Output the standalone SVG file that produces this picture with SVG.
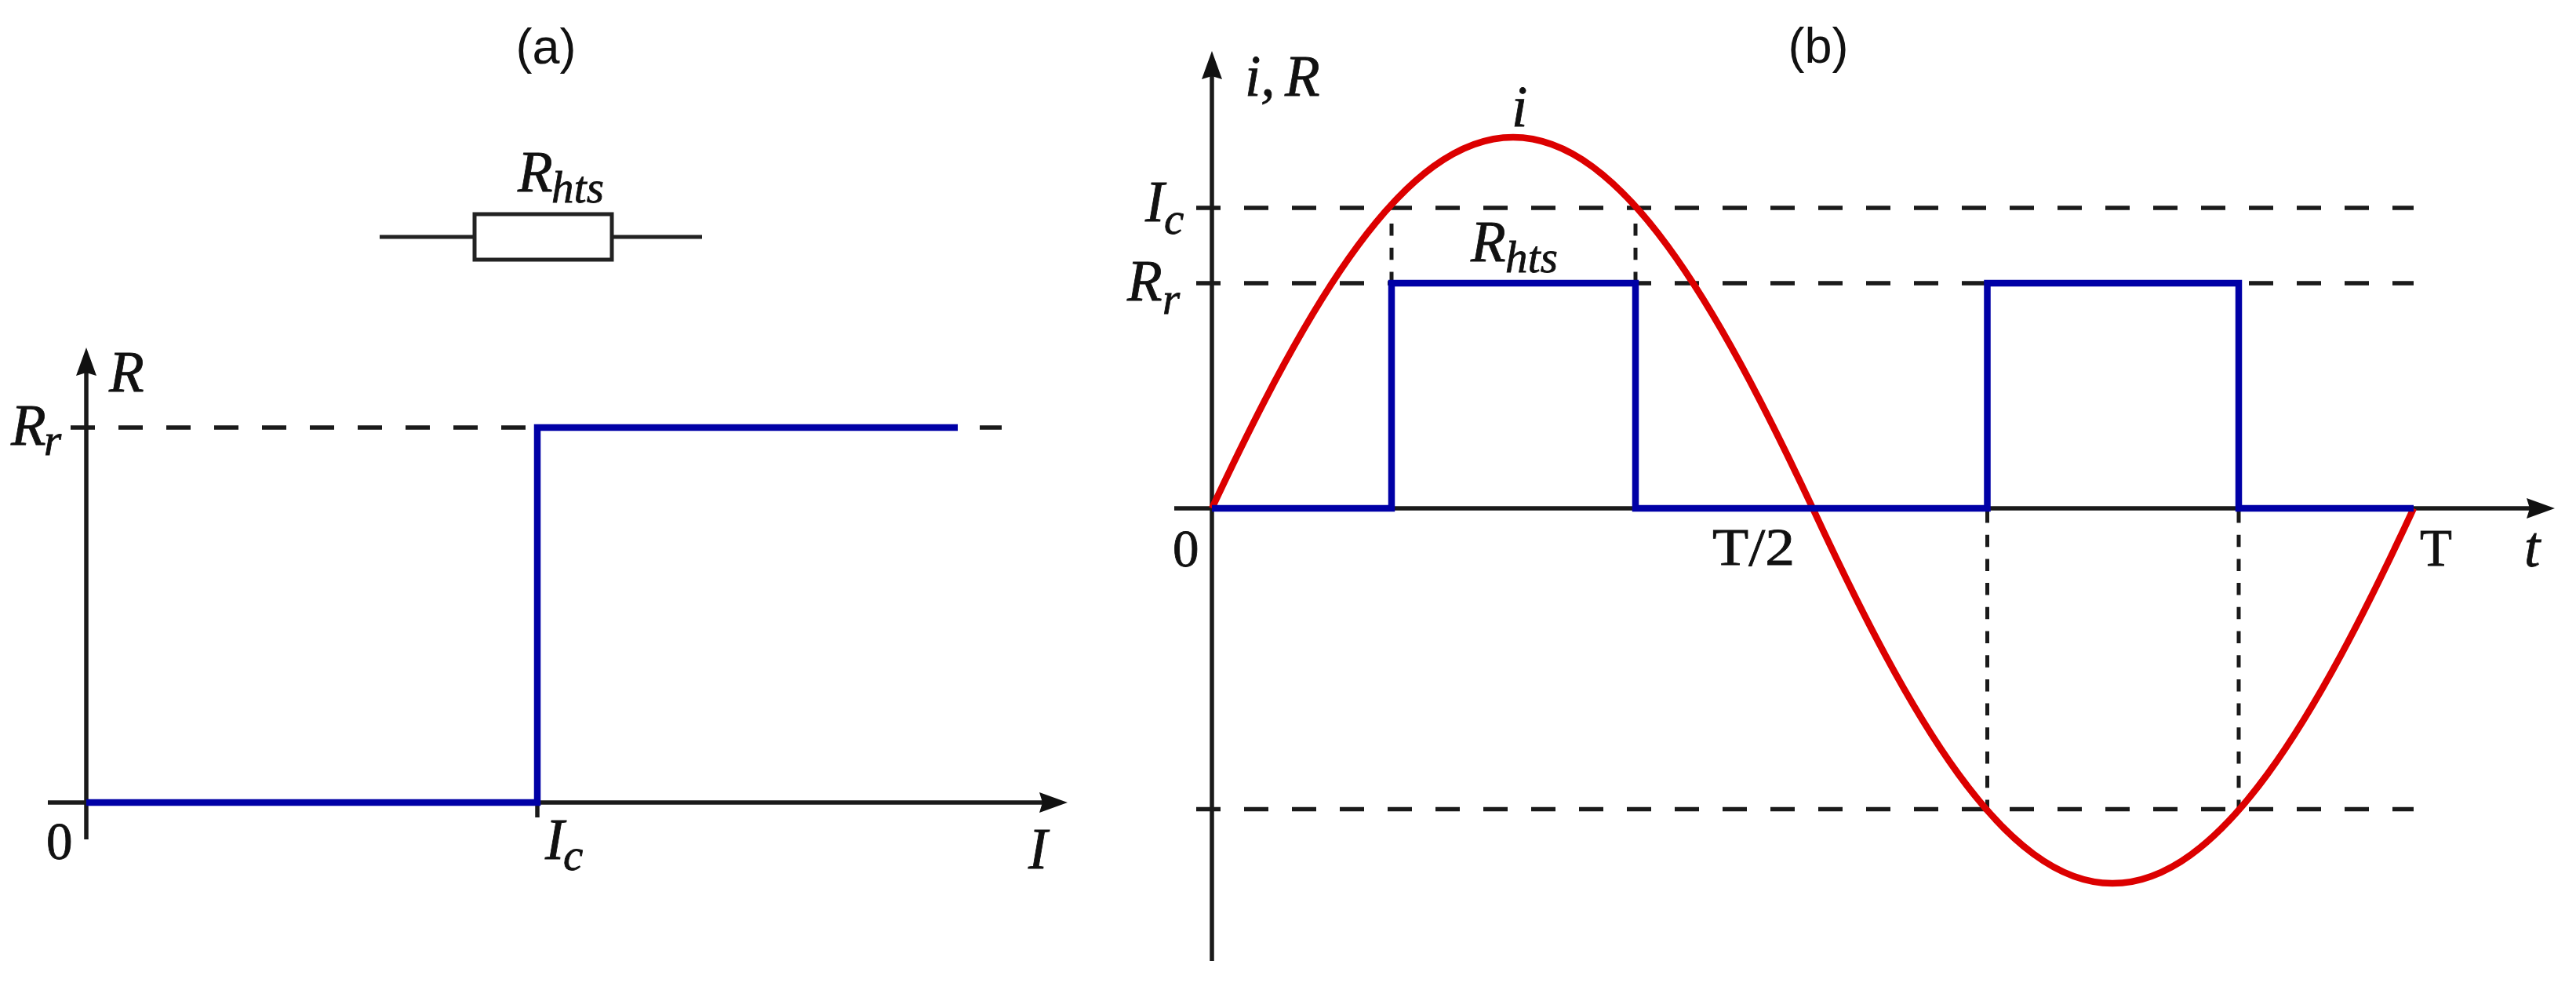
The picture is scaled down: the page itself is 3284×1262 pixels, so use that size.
<svg xmlns="http://www.w3.org/2000/svg" width="3284" height="1262" viewBox="0 0 3284 1262">
<style>
.ax{fill:none;stroke:#1a1a1a;stroke-width:5.5}
.wire{fill:none;stroke:#222;stroke-width:5}
.dl{fill:none;stroke:#1a1a1a;stroke-width:5.5;stroke-dasharray:31 30}
.ds{fill:none;stroke:#1a1a1a;stroke-width:5;stroke-dasharray:15.5 15.2}
.blue{fill:none;stroke:#0000a6;stroke-width:8.5}
.red{fill:none;stroke:#dc0000;stroke-width:8.5}
text{fill:#111;stroke:#111;stroke-width:.8;font-family:"Liberation Serif",serif}
.m{font-style:italic;font-size:73px}
.s{font-style:italic;font-size:57px}
.n{font-size:67px}
.h{font-family:"Liberation Sans",sans-serif;font-size:63px;stroke-width:0}
</style>
<defs>
<marker id="arrow" markerUnits="userSpaceOnUse" markerWidth="38" markerHeight="28" refX="6" refY="13" orient="auto"><path d="M36 13L0 0L4 13L0 26Z" fill="#111"/></marker>
</defs>
<rect width="3284" height="1262" fill="#fff"/>
<g id="connectors">
<path class="ax" d="M110 1070V473" marker-end="url(#arrow)"/>
<path class="ax" d="M61 1023H1331" marker-end="url(#arrow)"/>
<path class="ax" d="M685 1023V1042"/>
<path class="dl" d="M90 545H1277"/>
<path class="blue" d="M110 1023H685V545H1221"/>
<path class="ax" d="M1545 1225V95" marker-end="url(#arrow)"/>
<path class="ax" d="M1497 648H3227" marker-end="url(#arrow)"/>
<path class="dl" d="M1525 265H3077"/>
<path class="dl" d="M1525 361H3077"/>
<path class="dl" d="M1525 1031.5H3077"/>
<path class="ds" d="M1774 285V361"/>
<path class="ds" d="M2085 285V361"/>
<path class="ds" d="M2533.5 651V1032"/>
<path class="ds" d="M2854 651V1032"/>
<path class="red" d="M1545 648C1668 386 1790 175 1929 175C2067 175 2188 386 2311 648C2434 913 2555 1126 2693 1126C2832 1126 2954 913 3077 648"/>
<path class="blue" d="M1545 648H1774V361H2085V648H2533.5V361H2854V648H3077"/>
</g>
<g id="resistor">
<path class="wire" d="M484 302H605M780 302H895"/>
<rect class="wire" x="605" y="273" width="175" height="58"/>
<text class="m" x="660" y="244">R<tspan class="s" x="703" y="258" textLength="67">hts</tspan></text>
</g>
<g id="panel-a-labels">
<text class="h" x="696" y="81" text-anchor="middle">(a)</text>
<text class="m" x="139" y="499">R</text>
<text class="m" x="14" y="567">R<tspan class="s" x="56" y="580">r</tspan></text>
<text class="n" x="59" y="1095">0</text>
<text class="m" x="695" y="1095">I<tspan class="s" x="718" y="1109">c</tspan></text>
<text class="m" x="1311" y="1107">I</text>
</g>
<g id="panel-b-labels">
<text class="h" x="2318" y="80" text-anchor="middle">(b)</text>
<text class="m" x="1587" y="122">i, <tspan x="1638">R</tspan></text>
<text class="m" x="1927" y="161">i</text>
<text class="m" x="1460" y="282">I<tspan class="s" x="1484" y="298">c</tspan></text>
<text class="m" x="1875" y="333">R<tspan class="s" x="1919" y="347" textLength="67">hts</tspan></text>
<text class="m" x="1437" y="383">R<tspan class="s" x="1482" y="400">r</tspan></text>
<text class="n" x="1495" y="722">0</text>
<text class="n" x="2183" y="720" textLength="105" lengthAdjust="spacingAndGlyphs">T/2</text>
<text class="n" x="3085" y="721">T</text>
<text class="m" x="3218" y="722">t</text>
</g>
</svg>
